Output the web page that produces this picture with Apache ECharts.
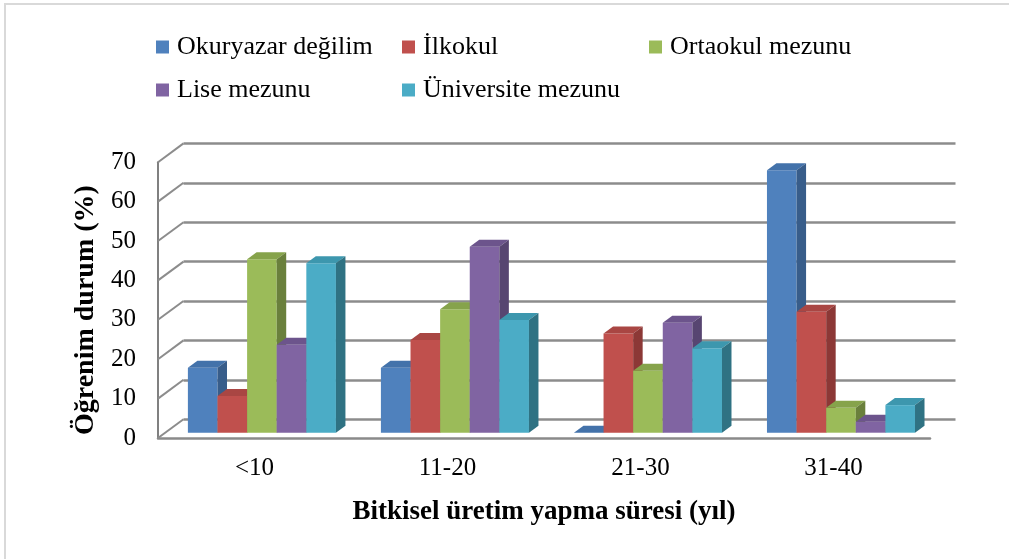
<!DOCTYPE html>
<html>
<head>
<meta charset="utf-8">
<script src="https://cdn.jsdelivr.net/npm/echarts@6/dist/echarts.min.js"></script>
<style>
  html, body { margin: 0; padding: 0; background: #fff; }
  #chart { width: 1009px; height: 559px; }
</style>
</head>
<body>
<div id="chart"></div>
<script>
// kategoriler ve seriler
const categories = ['<10', '11-20', '21-30', '31-40'];
const seriesNames = ['Okuryazar değilim', 'İlkokul', 'Ortaokul mezunu', 'Lise mezunu', 'Üniversite mezunu'];
const okuryazar = [16.5, 16.5, 0, 66.6];
const ilkokul = [9.3, 23.5, 25.2, 30.7];
const ortaokul = [44.0, 31.3, 15.7, 6.3];
const lise = [22.3, 47.2, 27.9, 2.8];
const universite = [43.0, 28.6, 21.4, 7.0];
const yTicks = [0, 10, 20, 30, 40, 50, 60, 70];

const seriesValues = [okuryazar, ilkokul, ortaokul, lise, universite];
const colors = ['#4f81bd', '#c0504d', '#9bbb59', '#8064a2', '#4bacc6'];
const topColors = ['#4372aa', '#a94643', '#86a34b', '#6c548c', '#3d97ae'];
const sideColors = ['#385d8a', '#8c3836', '#6a803c', '#574571', '#2f7283'];

const FONT = 'Liberation Serif';

// 3D yerlesim: on duzlem, arka duvar, cubuk duzlemi
const front = { left: 158, top: 162.2, right: 79, bottom: 121 };
const back = { left: 183.5, top: 143.4, right: 53.5, bottom: 139.6 };
const barPlane = { left: 165.4, top: 156.8, right: 71.5, bottom: 126.3 };
const WALL_DX = back.left - front.left;
const WALL_DY = back.top - front.top;
const BAR_DX = 9.5;
const BAR_DY = -7;
const GROUP_RATIO = 0.767;

function barRenderer(idx) {
  return function (params, api) {
    const ci = api.value(0);
    const v = api.value(1);
    const catW = api.size([1, 0])[0];
    const barW = catW * GROUP_RATIO / seriesNames.length;
    const base = api.coord([ci, 0]);
    const top = api.coord([ci, v]);
    const x = base[0] - barW * seriesNames.length / 2 + idx * barW;
    const y0 = base[1];
    const y1 = top[1];
    return {
      type: 'group',
      children: [
        {
          type: 'rect',
          shape: { x: x, y: y1, width: barW, height: y0 - y1 },
          style: { fill: colors[idx] }
        },
        {
          type: 'polygon',
          shape: { points: [[x, y1], [x + barW, y1], [x + barW + BAR_DX, y1 + BAR_DY], [x + BAR_DX, y1 + BAR_DY]] },
          style: { fill: topColors[idx] }
        },
        {
          type: 'polygon',
          shape: { points: [[x + barW, y1], [x + barW + BAR_DX, y1 + BAR_DY], [x + barW + BAR_DX, y0 + BAR_DY], [x + barW, y0]] },
          style: { fill: sideColors[idx] }
        }
      ]
    };
  };
}

const chart = echarts.init(document.getElementById('chart'));

const barSeries = seriesNames.map((name, i) => ({
  name: name,
  type: 'custom',
  xAxisIndex: 2,
  yAxisIndex: 2,
  itemStyle: { color: colors[i] },
  renderItem: barRenderer(i),
  encode: { x: 0, y: 1 },
  data: seriesValues[i].map((v, k) => [k, v]),
  z: 5
}));

function legendAt(left, names) {
  return {
    orient: 'vertical',
    left: left,
    top: 29,
    itemGap: 17,
    itemWidth: 13,
    itemHeight: 13,
    icon: 'rect',
    selectedMode: false,
    formatter: '{t|{name}}',
    textStyle: {
      fontFamily: FONT,
      fontSize: 26,
      color: '#000',
      rich: {
        t: { fontFamily: FONT, fontSize: 26, color: '#000', padding: [0, 0, 0, 3] }
      }
    },
    data: names.map(n => ({ name: n, textStyle: { fontFamily: FONT } }))
  };
}

const option = {
  animation: false,
  backgroundColor: '#fff',
  textStyle: { fontFamily: FONT, color: '#000' },
  legend: [
    legendAt(151, [seriesNames[0], seriesNames[3]]),
    legendAt(397, [seriesNames[1], seriesNames[4]]),
    legendAt(644, [seriesNames[2]])
  ],
  grid: [
    Object.assign({}, front),
    Object.assign({}, back),
    Object.assign({}, barPlane)
  ],
  xAxis: [
    {
      gridIndex: 0,
      type: 'category',
      data: categories,
      axisLine: { show: true, lineStyle: { color: '#8a8a8a', width: 2.5 } },
      axisTick: { show: false },
      axisLabel: { fontFamily: FONT, fontSize: 25, color: '#000', margin: 18 },
      name: 'Bitkisel üretim yapma süresi (yıl)',
      nameLocation: 'middle',
      nameGap: 61,
      nameTextStyle: { fontFamily: FONT, fontSize: 27, fontWeight: 'bold', color: '#000' }
    },
    { gridIndex: 1, type: 'category', data: categories, show: false },
    { gridIndex: 2, type: 'category', data: categories, show: false }
  ],
  yAxis: [
    {
      gridIndex: 0,
      type: 'value',
      min: 0,
      max: 70,
      interval: 10,
      axisLine: { show: true, lineStyle: { color: '#808080', width: 2 } },
      axisTick: { show: false },
      splitLine: { show: false },
      axisLabel: { fontFamily: FONT, fontSize: 25, color: '#000', margin: 22 },
      name: 'Öğrenim durum (%)',
      nameLocation: 'middle',
      nameGap: 56,
      nameTextStyle: { fontFamily: FONT, fontSize: 28, fontWeight: 'bold', color: '#000', padding: [0, 20, 0, 0] }
    },
    {
      gridIndex: 1,
      type: 'value',
      min: 0,
      max: 70,
      interval: 10,
      axisLine: { show: false },
      axisTick: { show: false },
      axisLabel: { show: false },
      splitLine: { show: true, lineStyle: { color: '#8c8c8c', width: 2.5 } }
    },
    { gridIndex: 2, type: 'value', min: 0, max: 70, interval: 10, show: false }
  ],
  series: [
    {
      // sol duvar capraz cizgileri
      type: 'custom',
      xAxisIndex: 0,
      yAxisIndex: 0,
      silent: true,
      renderItem: function (params, api) {
        const p = api.coord([0, api.value(1)]);
        const x0 = params.coordSys.x;
        return {
          type: 'line',
          shape: { x1: x0, y1: p[1], x2: x0 + WALL_DX, y2: p[1] + WALL_DY },
          style: { stroke: '#8c8c8c', lineWidth: 2 }
        };
      },
      encode: { x: 0, y: 1 },
      data: yTicks.map(v => [0, v]),
      z: 1
    }
  ].concat(barSeries),
  graphic: [
    {
      type: 'polyline',
      shape: { points: [[5, 559], [5, 4], [1009, 4]] },
      style: { stroke: '#d9d9d9', lineWidth: 2, fill: null },
      silent: true
    }
  ]
};

chart.setOption(option);
</script>
</body>
</html>
